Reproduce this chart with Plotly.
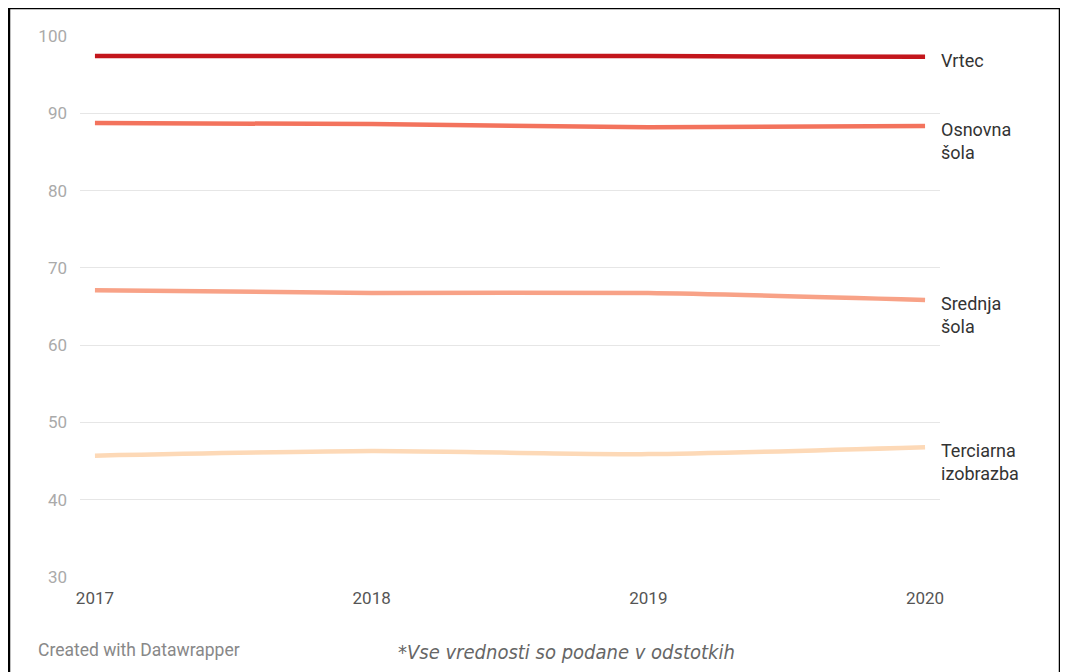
import plotly.graph_objects as go

years = [2017, 2018, 2019, 2020]
vrtec = [97.4, 97.4, 97.4, 97.3]
osnovna = [88.75, 88.6, 88.2, 88.35]
srednja = [67.1, 66.75, 66.75, 65.85]
terciarna = [45.7, 46.3, 45.9, 46.8]

series_names = ["Vrtec", "Osnovna<br>šola", "Srednja<br>šola", "Terciarna<br>izobrazba"]
series_values = [vrtec, osnovna, srednja, terciarna]
series_colors = ["#c3161c", "#f3735d", "#f8a287", "#fdd9b7"]

y_ticks = [30, 40, 50, 60, 70, 80, 90, 100]

# page body has an 8px margin; the figure is placed at (8, 8)
OFF = 8
PL, PR, PT, PB = 80, 940, 36, 577   # plot area in page pixels
W, H = 1068 - OFF, 672 - OFF


def px(xp):
    return (xp - PL) / (PR - PL)


def py(yp):
    return (PB - yp) / (PB - PT)


fig = go.Figure()
for name, vals, col in zip(series_names, series_values, series_colors):
    fig.add_trace(go.Scatter(
        x=years, y=vals, mode="lines",
        line=dict(color=col, width=4.5, shape="spline", smoothing=0.6),
        showlegend=False, hoverinfo="skip",
    ))
    fig.add_annotation(
        x=years[-1], y=vals[-1], xref="x", yref="y",
        text=name, showarrow=False, xanchor="left", yanchor="top",
        xshift=14, yshift=9, align="left",
        font=dict(family="Roboto, Arial, sans-serif", size=18, color="#333333"),
    )

fig.update_layout(
    width=W, height=H,
    margin=dict(l=PL - OFF, r=1068 - PR, t=PT - OFF, b=672 - PB),
    paper_bgcolor="white", plot_bgcolor="white",
    xaxis=dict(
        range=[2016.946, 2020.054], tickvals=years,
        ticktext=[str(y) for y in years],
        showgrid=False, zeroline=False, showline=False,
        tickfont=dict(family="Roboto, Arial, sans-serif", size=17, color="#555555"),
        ticks="", ticklabelstandoff=9,
    ),
    yaxis=dict(
        range=[30, 100], tickvals=y_ticks,
        showgrid=True, gridcolor="#e6e6e6", gridwidth=1,
        zeroline=False, showline=False,
        tickfont=dict(family="Roboto, Arial, sans-serif", size=17, color="#aaaaaa"),
        ticks="", ticklabelstandoff=12,
    ),
    shapes=[dict(
        type="rect", xref="paper", yref="paper",
        x0=px(9), x1=px(1060),
        y0=py(720), y1=py(8),
        line=dict(color="black", width=2.5), fillcolor="rgba(0,0,0,0)",
        layer="above",
    )],
)

fig.add_annotation(
    x=px(36), y=py(650), xref="paper", yref="paper",
    text="Created with Datawrapper", showarrow=False,
    xanchor="left", yanchor="middle",
    font=dict(family="Roboto, Arial, sans-serif", size=17.5, color="#888888"),
)
fig.add_annotation(
    x=px(396), y=py(652), xref="paper", yref="paper",
    text="<i>*Vse vrednosti so podane v odstotkih</i>", showarrow=False,
    xanchor="left", yanchor="middle",
    font=dict(family="DejaVu Sans Condensed, sans-serif", size=20, color="#666666"),
)

fig.write_html("out.html")
